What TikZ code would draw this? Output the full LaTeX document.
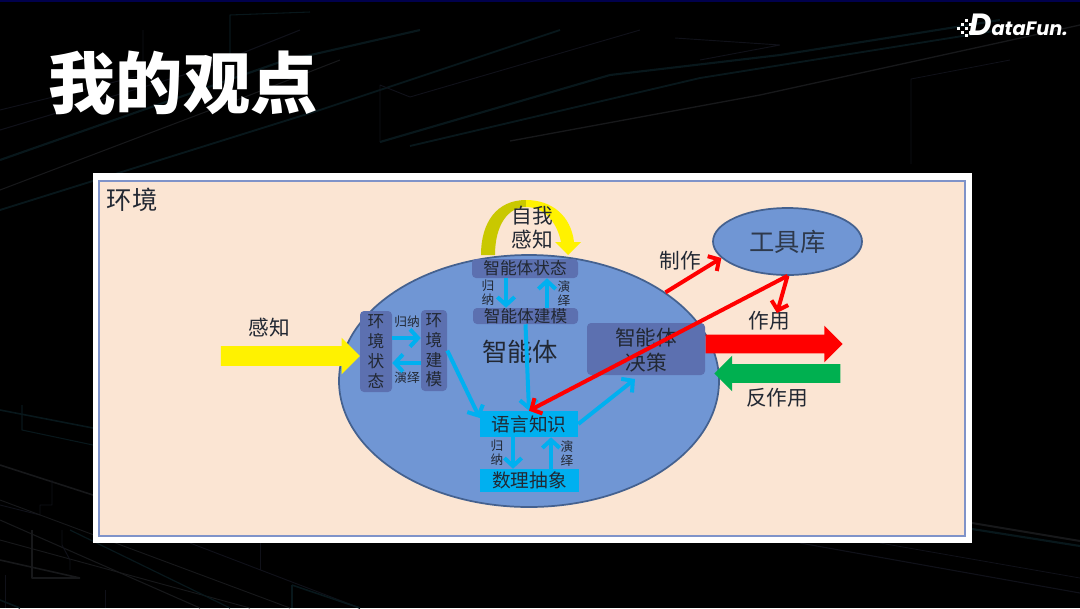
\documentclass[tikz,border=0pt]{standalone}
\usepackage{fontspec}
\usepackage{xcolor}
\setmainfont{Noto Sans CJK SC}
\newfontfamily\logofont{Poppins}
\usetikzlibrary{arrows.meta,positioning,shapes.geometric,shapes.arrows}

\definecolor{peach}{HTML}{FBE5D3}
\definecolor{framec}{HTML}{7F93C9}
\definecolor{agentc}{HTML}{7096D4}
\definecolor{edgec}{HTML}{44618F}
\definecolor{boxc}{HTML}{5C70B0}
\definecolor{skyc}{HTML}{00B0F0}
\definecolor{greenc}{HTML}{00B050}
\definecolor{olivec}{HTML}{C9C800}
\definecolor{textc}{HTML}{222833}
\definecolor{bgwarm}{HTML}{17181A}
\definecolor{bgteal}{HTML}{08171B}
\definecolor{bgblue}{HTML}{101119}

\tikzset{
	txt/.style={inner sep=0pt,text=textc,align=center},
	dark/.style={fill=boxc,rounded corners=3pt,inner sep=0pt},
	lang/.style={fill=skyc,inner sep=0pt},
	blue/.style={draw=skyc,line width=3pt,-{Straight Barb[length=6pt,width=13pt,line width=3pt]}},
	redarr/.style={draw=red,line width=3pt,-{Straight Barb[length=6pt,width=13pt,line width=3pt]}},
	block/.style={single arrow,inner xsep=0pt,single arrow head indent=0pt}
}

\begin{document}
\begin{tikzpicture}[x=0.75pt,y=-0.75pt]
	\useasboundingbox (0,0) rectangle (1080,608);
	\fill[black] (0,0) rectangle (1080,608);
	\fill[blue!30!black] (0,0) rectangle (1080,1.5);
	% background
	\foreach \pts/\col/\wid in {
		{(0,160) -- (280,62) -- (420,30)}/bgteal/1.6,
		{(0,190) -- (250,95) -- (340,60)}/bgwarm/0.8,
		{(0,210) -- (320,110) -- (560,30)}/bgteal/1.4,
		{(0,130) -- (200,70) -- (300,30)}/bgblue/0.8,
		{(380,142) -- (380,85) -- (410,97) -- (640,30)}/bgblue/0.7,
		{(380,142) -- (610,75) -- (780,55) -- (1000,20)}/bgteal/1.6,
		{(410,146) -- (700,78) -- (1000,30)}/bgteal/1.4,
		{(510,141) -- (760,95) -- (1080,25)}/bgwarm/1,
		{(911,164) -- (911,79) -- (1010,60)}/bgblue/0.6,
		{(230,60) -- (230,15) -- (310,12)}/bgteal/0.8,
		{(143,30) -- (143,75) -- (0,110)}/bgblue/0.7,
		{(675,38) -- (780,45) -- (700,60)}/bgblue/0.7,
		{(0,410) -- (93,428)}/bgteal/1.2,
		{(22,405) -- (22,430) -- (93,445)}/bgteal/0.8,
		{(0,465) -- (93,495)}/bgwarm/1.2,
		{(52,480) -- (52,505) -- (40,505) -- (40,515) -- (0,505)}/bgblue/0.7,
		{(0,520) -- (200,608)}/bgwarm/0.8,
		{(0,540) -- (250,608)}/bgwarm/0.7,
		{(0,500) -- (290,608)}/bgwarm/0.7,
		{(32,530) -- (32,578) -- (80,578) -- (0,560)}/bgwarm/1.2,
		{(62,530) -- (62,545) -- (70,560) -- (70,570)}/bgblue/0.7,
		{(70,530) -- (230,608)}/bgteal/0.9,
		{(5,575) -- (5,608)}/bgblue/0.6,
		{(105,590) -- (105,608)}/bgblue/0.6,
		{(190,543) -- (360,608)}/bgblue/0.7,
		{(260,543) -- (260,570)}/bgblue/0.6,
		{(292,585) -- (292,608)}/bgteal/1.4,
		{(292,585) -- (360,608)}/bgteal/1.2,
		{(800,543) -- (1080,593)}/bgblue/0.8,
		{(880,543) -- (1080,578)}/bgblue/0.6,
		{(972,523) -- (1080,541)}/bgwarm/1.5,
		{(972,529) -- (1080,546)}/bgteal/1.6,
		{(0,600) -- (20,608)}/bgteal/1.2%
	}{
		\draw[\col,line width=\wid pt,line join=bevel] \pts;
	}
	% title and logo
	\node[text=white,font=\fontsize{50.5}{50.5}\selectfont\bfseries,inner sep=0pt] (title) at (183,83) {我的观点};
	\node[text=white,font=\logofont\bfseries\itshape,inner sep=0pt,anchor=base west] (logo) at (969,35) {{\fontsize{23}{23}\selectfont D}{\fontsize{14.5}{14.5}\selectfont ataFun.}};
	\foreach \dx/\dy in {0/6,4/2,4/10,8/6,8/-2,8/13,12/2,12/10}{
		\fill[white] (957+\dx,21+\dy) rectangle ++(2.6,2.6);
	}
	% frame
	\fill[white] (93,173) rectangle (972,543);
	\node[draw=framec,fill=peach,line width=1.6pt,minimum width=866*0.75pt,minimum height=355*0.75pt,inner sep=0pt] (env) at (532,358.5) {};
	\node[txt,font=\fontsize{19}{19}\selectfont] (envlabel) at (132,200) {环境};
	% big ellipse and tools
	\node[ellipse,draw=edgec,fill=agentc,line width=1.3pt,minimum width=380*0.75pt,minimum height=252*0.75pt,inner sep=0pt] (agent) at (529,381) {};
	\node[ellipse,draw=edgec,fill=agentc,line width=1.3pt,minimum width=149*0.75pt,minimum height=67*0.75pt,inner sep=0pt,text=textc!85!agentc,font=\fontsize{19}{19}\selectfont] (tools) at (787.5,241.5) {工具库};
	% self perception arc
	\fill[olivec] (481,255) .. controls (481,222) and (497,200) .. (526,200) -- (526,207) .. controls (508,207) and (495,225) .. (495,255) -- cycle;
	\fill[yellow] (526,200) .. controls (552,200) and (571,216) .. (574,242) -- (581,242) -- (568,255) -- (555,242) -- (561,242) .. controls (557,222) and (544,207) .. (526,207) -- cycle;
	\node[txt,font=\fontsize{15.5}{18}\selectfont] (selfp) at (532,228) {自我\\感知};
	% boxes
	\node[dark,minimum width=32*0.75pt,minimum height=81*0.75pt] (envstate) at (376,351.5) {};
	\node[txt,font=\fontsize{12.5}{14.8}\selectfont] (envstatet) at (envstate) {环\\境\\状\\态};
	\node[dark,minimum width=26*0.75pt,minimum height=81*0.75pt] (envmodel) at (434,350.5) {};
	\node[txt,font=\fontsize{12.5}{14.8}\selectfont] (envmodelt) at (envmodel) {环\\境\\建\\模};
	\node[dark,minimum width=106*0.75pt,minimum height=19*0.75pt] (selfstate) at (525,268.5) {};
	\node[txt,font=\fontsize{12.5}{12.5}\selectfont] (selfstatet) at (selfstate) {智能体状态};
	\node[dark,minimum width=105*0.75pt,minimum height=16*0.75pt] (selfmodel) at (525.5,316) {};
	\node[txt,font=\fontsize{12.5}{12.5}\selectfont] (selfmodelt) at (selfmodel) {智能体建模};
	\node[dark,minimum width=118*0.75pt,minimum height=52*0.75pt] (decide) at (646,349) {};
	\node[txt,font=\fontsize{15.5}{19}\selectfont] (decidet) at (646,350) {智能体\\决策};
	\node[lang,minimum width=98*0.75pt,minimum height=26*0.75pt,text=textc,font=\fontsize{14}{14}\selectfont] (langk) at (529,424) {语言知识};
	\node[lang,minimum width=99*0.75pt,minimum height=23*0.75pt,text=textc,font=\fontsize{14}{14}\selectfont] (mathk) at (529.5,480.5) {数理抽象};
	\node[txt,font=\fontsize{19}{19}\selectfont] (agentlabel) at (520,352) {智能体};
	% block arrows
	\node[block,fill=yellow,inner ysep=9.5*0.75pt,minimum height=139*0.75pt,minimum width=36*0.75pt,single arrow head extend=8.5*0.75pt] (sense) at (285.5,356) {};
	\node[block,fill=red,inner ysep=9*0.75pt,minimum height=137*0.75pt,minimum width=36*0.75pt,single arrow head extend=9*0.75pt] (act) at (769.5,344) {};
	\node[block,fill=greenc,inner ysep=9*0.75pt,minimum height=126*0.75pt,minimum width=35*0.75pt,single arrow head extend=8.5*0.75pt,shape border rotate=180] (react) at (782,373.5) {};
	\node[txt,font=\fontsize{15.5}{15.5}\selectfont] (sensel) at (269,328) {感知};
	\node[txt,font=\fontsize{15.5}{15.5}\selectfont] (actl) at (769,321) {作用};
	\node[txt,font=\fontsize{15.5}{15.5}\selectfont] (reactl) at (777,398) {反作用};
	\node[txt,font=\fontsize{15.5}{15.5}\selectfont] (makel) at (680,261) {制作};
	% small labels
	\node[txt,font=\fontsize{9.5}{9.5}\selectfont] (ind1) at (407,322) {归纳};
	\node[txt,font=\fontsize{9.5}{9.5}\selectfont] (ded1) at (407,378) {演绎};
	\node[txt,font=\fontsize{9.5}{10.5}\selectfont] (ind2) at (488,293) {归\\纳};
	\node[txt,font=\fontsize{9.5}{10.5}\selectfont] (ded2) at (564,294) {演\\绎};
	\node[txt,font=\fontsize{9.5}{10.5}\selectfont] (ind3) at (497,453) {归\\纳};
	\node[txt,font=\fontsize{9.5}{10.5}\selectfont] (ded3) at (567,454) {演\\绎};
	% connectors
	\draw[blue] (envstate.east |- 0,338) -- (envmodel.west |- 0,338);
	\draw[blue] (envmodel.west |- 0,363) -- (envstate.east |- 0,363);
	\draw[blue] (selfstate.south -| 506,0) -- (selfmodel.north -| 506,0);
	\draw[blue] (selfmodel.north -| 547,0) -- (selfstate.south -| 547,0);
	\draw[blue] (selfmodel.south) -- (langk.north);
	\draw[blue] (envmodel.east) -- (langk.west |- 0,418);
	\coordinate (decidein) at (635,379);
	\draw[blue] (langk.east) -- (decidein);
	\draw[blue] (langk.south -| 513,0) -- (mathk.north -| 513,0);
	\draw[blue] (mathk.north -| 551,0) -- (langk.south -| 551,0);
	\coordinate (usepoint) at (777,313);
	\draw[redarr] (agent.33) -- (tools.194);
	\draw[redarr] (tools.south) -- (langk.north);
	\draw[redarr] (tools.south) -- (usepoint);
\end{tikzpicture}
\end{document}
